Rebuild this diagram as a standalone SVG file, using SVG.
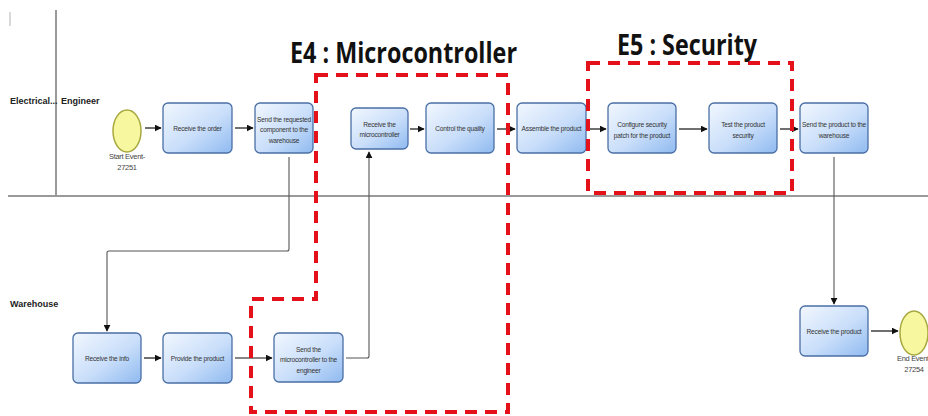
<svg xmlns="http://www.w3.org/2000/svg" width="928" height="416" viewBox="0 0 928 416">
<style>
.lane{fill:none;stroke:#9a9a9a;stroke-width:2}
.lbl{font-family:"Liberation Sans",Arial,sans-serif;font-weight:bold;font-size:9px;fill:#222}
.box{stroke:#4a6fa5;stroke-width:1.3;fill:url(#bg)}
.t{font-family:"Liberation Sans",Arial,sans-serif;font-size:6.6px;fill:#333;text-anchor:middle;letter-spacing:-0.2px}
.ev{fill:#f7f7a0;stroke:#a8a840;stroke-width:1.5}
.evt{font-family:"Liberation Sans",Arial,sans-serif;font-size:7.5px;fill:#444;text-anchor:middle;letter-spacing:-0.3px}
.c{fill:none;stroke:#111;stroke-width:1.2;marker-end:url(#ah)}
.cg{fill:none;stroke:#555;stroke-width:1.1;marker-end:url(#ah)}
.red{fill:none;stroke:#e4111b;stroke-width:4;stroke-dasharray:12 8}
.ttl{font-family:"Open Sans","Liberation Sans",sans-serif;font-weight:bold;font-size:29px;fill:#111}
</style>
<defs>
<linearGradient id="bg" x1="0" y1="0" x2="1" y2="1">
<stop offset="0" stop-color="#f2f7fe"/>
<stop offset="0.55" stop-color="#c9defa"/>
<stop offset="1" stop-color="#8fbaf0"/>
</linearGradient>
<marker id="ah" viewBox="0 0 10 10" refX="9" refY="5" markerWidth="7" markerHeight="7" markerUnits="userSpaceOnUse" orient="auto">
<path d="M0,0 L10,5 L0,10 z" fill="#111"/>
</marker>
</defs>
<rect width="928" height="416" fill="#fff"/>

<g id="lanes">
<line x1="10" y1="12" x2="10" y2="26" stroke="#ccc" stroke-width="1.5"/>
<line class="lane" x1="56" y1="10" x2="56" y2="196"/>
<line class="lane" x1="8" y1="196" x2="928" y2="196"/>
<text class="lbl" x="10" y="104">Electrical...</text>
<text class="lbl" x="61" y="104">Engineer</text>
<text class="lbl" x="10" y="307">Warehouse</text>
</g>

<g id="connectors">
<line class="c" x1="145" y1="128" x2="161" y2="128"/>
<line class="c" x1="235" y1="128" x2="253" y2="128"/>
<line class="c" x1="410" y1="129" x2="424" y2="129"/>
<line class="c" x1="497" y1="129" x2="515" y2="129"/>
<line class="c" x1="588" y1="129" x2="606" y2="129"/>
<line class="c" x1="679" y1="129" x2="707" y2="129"/>
<line class="c" x1="780" y1="129" x2="798" y2="129"/>
<line class="c" x1="144" y1="358" x2="161" y2="358"/>
<line class="c" x1="235" y1="358" x2="272" y2="358"/>
<line class="c" x1="871" y1="331" x2="898" y2="331"/>
<path class="cg" d="M289,157 V249 Q289,251 287,251 H109 Q107,251 107,253 V331"/>
<path class="cg" d="M346,358 H367 Q369,358 369,356 V152"/>
<path class="cg" d="M834,157 V304"/>
</g>

<g id="start">
<ellipse class="ev" cx="127" cy="131" rx="14" ry="21"/>
<text class="evt" x="127" y="159">Start Event-</text>
<text class="evt" x="127" y="170">27251</text>
</g>
<g id="receive-order">
<rect class="box" x="163" y="103" width="69" height="50" rx="5"/>
<text class="t" x="197.5" y="131">Receive the order</text>
</g>
<g id="send-requested">
<rect class="box" x="255" y="103" width="58" height="50" rx="5"/>
<text class="t" x="284" y="122">Send the requested</text>
<text class="t" x="284" y="132">component to the</text>
<text class="t" x="284" y="143">warehouse</text>
</g>
<g id="receive-mc">
<rect class="box" x="351" y="108" width="57" height="41" rx="5"/>
<text class="t" x="379.5" y="127">Receive the</text>
<text class="t" x="379.5" y="137">microcontroller</text>
</g>
<g id="control-quality">
<rect class="box" x="426" y="103" width="68" height="50" rx="5"/>
<text class="t" x="460" y="131">Control the quality</text>
</g>
<g id="assemble">
<rect class="box" x="517" y="103" width="69" height="50" rx="5"/>
<text class="t" x="551.5" y="131">Assemble the product</text>
</g>
<g id="configure">
<rect class="box" x="608" y="103" width="68" height="50" rx="5"/>
<text class="t" x="642" y="127">Configure security</text>
<text class="t" x="642" y="138">patch  for the product</text>
</g>
<g id="test">
<rect class="box" x="709" y="103" width="68" height="50" rx="5"/>
<text class="t" x="743" y="127">Test the product</text>
<text class="t" x="743" y="138">security</text>
</g>
<g id="send-product">
<rect class="box" x="800" y="103" width="68" height="50" rx="5"/>
<text class="t" x="834" y="127">Send the product to the</text>
<text class="t" x="834" y="138">warehouse</text>
</g>
<g id="receive-info">
<rect class="box" x="73" y="333" width="68" height="50" rx="5"/>
<text class="t" x="107" y="361">Receive the info</text>
</g>
<g id="provide">
<rect class="box" x="163" y="333" width="69" height="50" rx="5"/>
<text class="t" x="197.5" y="361">Provide the product</text>
</g>
<g id="send-mc">
<rect class="box" x="274" y="333" width="69" height="49" rx="5"/>
<text class="t" x="308.5" y="352">Send the</text>
<text class="t" x="308.5" y="362">microcontroller to the</text>
<text class="t" x="308.5" y="373">engineer</text>
</g>
<g id="receive-product">
<rect class="box" x="800" y="306" width="68" height="50" rx="5"/>
<text class="t" x="834" y="334">Receive the product</text>
</g>
<g id="end">
<ellipse class="ev" cx="914" cy="333" rx="14" ry="22"/>
<text class="evt" x="914" y="361">End Event-</text>
<text class="evt" x="914" y="372">27254</text>
</g>

<g id="e4">
<path class="red" d="M316,75 H508 V412 H251 V299 H316 Z"/>
<text class="ttl" x="290" y="63" textLength="227" lengthAdjust="spacingAndGlyphs">E4 : Microcontroller</text>
</g>
<g id="e5">
<rect class="red" x="588" y="63" width="204" height="130"/>
<text class="ttl" x="617" y="55" textLength="140" lengthAdjust="spacingAndGlyphs">E5 : Security</text>
</g>
</svg>
